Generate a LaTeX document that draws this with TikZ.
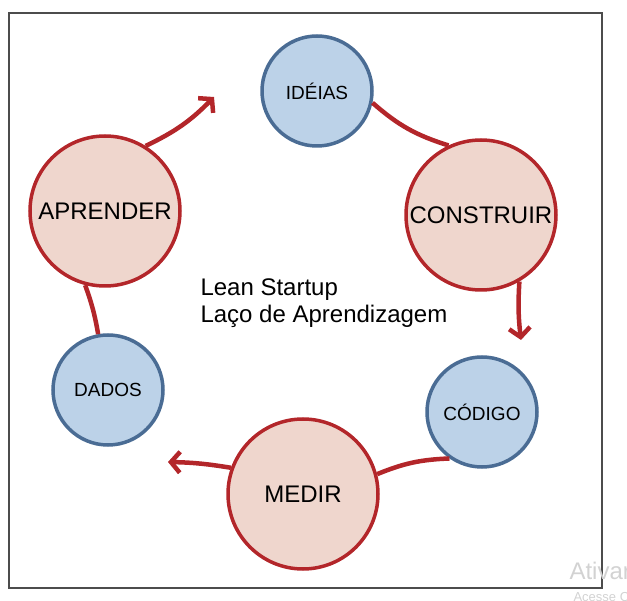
\documentclass[tikz,border=0pt]{standalone}
\usepackage{fontspec}
\setmainfont{Liberation Sans}
\usetikzlibrary{arrows.meta}
\definecolor{loopred}{HTML}{B3262A}
\definecolor{redfill}{HTML}{EFD6CD}
\definecolor{blueline}{HTML}{4A6C94}
\definecolor{bluefill}{HTML}{BCD2E8}

\begin{document}
\begin{tikzpicture}[x=1pt, y=-1pt,
    stage/.style={circle, draw=loopred, fill=redfill, line width=3.5pt, inner sep=0pt,
      minimum size=150pt, font=\fontsize{24}{24}\selectfont},
    product/.style={circle, draw=blueline, fill=bluefill, line width=3.5pt, inner sep=0pt,
      minimum size=110pt, font=\fontsize{19}{19}\selectfont},
    flow/.style={draw=loopred, line width=4.5pt},
    tip/.style={-{Straight Barb[length=9pt, width=21pt]}}]
    \useasboundingbox (0, 0) rectangle (627, 601);
    \draw[gray!60!black, line width=1.5pt] (9, 13) rectangle (602, 588);

    % the loop
    \node[product] (ideias) at (317, 91) {IDÉIAS};
    \node[stage] (construir) at (481, 215) {CONSTRUIR};
    \node[product] (codigo) at (482, 412) {CÓDIGO};
    \node[stage] (medir) at (303, 494) {MEDIR};
    \node[product] (dados) at (108, 390) {DADOS};
    \node[stage] (aprender) at (105, 211) {APRENDER};
    \node[anchor=west, align=left, font=\fontsize{24}{27}\selectfont] (titulo) at (197, 303)
      {Lean Startup\\Laço de Aprendizagem};

    \coordinate (tipA) at (521, 340);
    \coordinate (tipB) at (168, 462);
    \coordinate (tipC) at (214, 97);

    \draw[flow] (ideias.-12) to[bend right=12] (construir.115);
    \draw[flow, tip] (construir.-60) to[bend right=5] (tipA);
    \draw[flow] (codigo.235) to[bend right=10] (medir.15);
    \draw[flow, tip] (medir.160) to[bend right=4] (tipB);
    \draw[flow] (dados.100) to[bend right=5] (aprender.-105);
    \draw[flow, tip] (aprender.58) to[bend right=10] (tipC);

    % leftover screen text
    \node[anchor=west, text=gray!35, font=\fontsize{24}{24}\selectfont] (ativar) at (566, 571) {Ativar o Windows};
    \node[anchor=west, text=gray!35, font=\fontsize{13}{13}\selectfont] (acesse) at (570, 598) {Acesse Configurações};
\end{tikzpicture}
\end{document}
